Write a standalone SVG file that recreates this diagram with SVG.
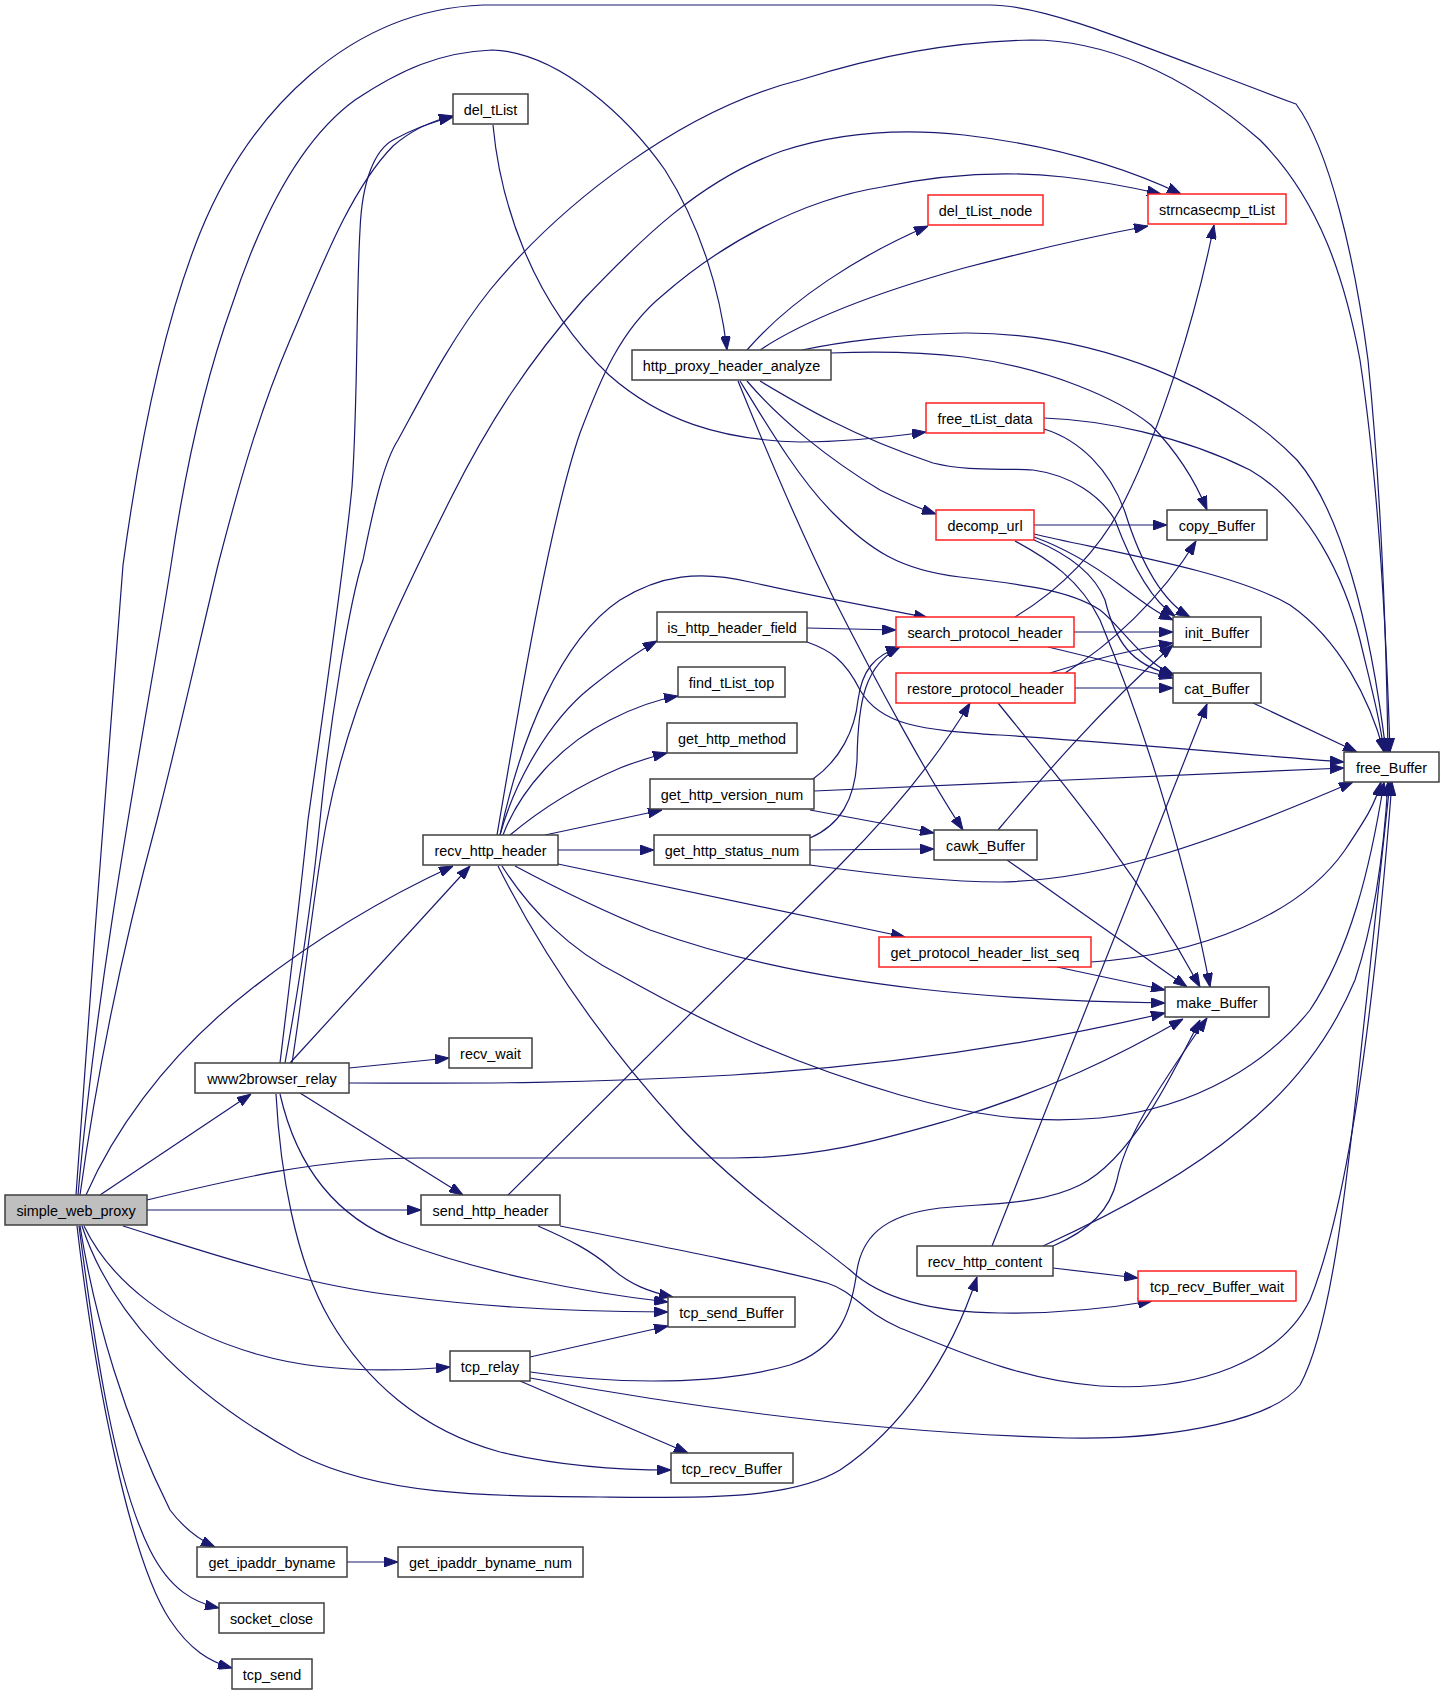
<svg xmlns="http://www.w3.org/2000/svg" width="1445" height="1696" viewBox="0 0 1445 1696">
<style>
.e{fill:none;stroke:#191970;stroke-width:1.2;marker-end:url(#arr)}
.n rect{fill:#ffffff;stroke:#404040;stroke-width:1.5}
.n.r rect{stroke:#ff2020}
.n.root rect{fill:#bfbfbf}
.n text{font-family:"Liberation Sans",Arial,sans-serif;font-size:14.4px;fill:#000;text-anchor:middle}
</style>
<defs>
<marker id="arr" viewBox="0 0 14 10" refX="14" refY="5" markerWidth="14" markerHeight="10" markerUnits="userSpaceOnUse" orient="auto">
<path d="M0,0 L14,5 L0,10 Z" fill="#191970" stroke="#191970" stroke-width="1"/>
</marker>
</defs>
<rect width="1445" height="1696" fill="#ffffff"/>
<g id="edges">
<path class="e" d="M76,1195 C90,1000 110,720 123,565 C140,440 165,320 200,233 C250,110 350,10 483,5 L990,5 C1050,5 1150,50 1296,104 C1330,150 1355,260 1368,360 C1380,480 1386,620 1388,752"/>
<path class="e" d="M78,1195 C100,950 150,700 171,565 C185,470 205,380 232,305 C260,220 300,140 355,100 C400,70 440,52 492,50 C560,52 630,120 665,170 C700,225 720,290 727,350"/>
<path class="e" d="M80,1195 C100,1050 130,920 157,820 C180,730 200,640 218,565 C240,480 260,410 290,340 C320,270 350,190 393,146 C415,127 435,120 453,116"/>
<path class="e" d="M86,1195 C110,1140 160,1060 250,990 C320,935 390,895 453,866"/>
<path class="e" d="M100,1195 L251,1094"/>
<path class="e" d="M147,1200 C230,1180 320,1158 420,1158 L733,1158 C820,1158 880,1140 950,1120 C1050,1090 1120,1055 1183,1019"/>
<path class="e" d="M147,1210 L421,1210"/>
<path class="e" d="M123,1226 C200,1250 300,1285 400,1296 C470,1305 540,1311 668,1312"/>
<path class="e" d="M84,1226 C110,1280 170,1330 260,1355 C320,1372 390,1372 450,1367"/>
<path class="e" d="M82,1226 C110,1310 180,1390 300,1455 C380,1495 480,1496 600,1497 C700,1498 790,1500 840,1470 C900,1430 950,1360 977,1277"/>
<path class="e" d="M80,1226 C95,1320 125,1420 170,1510 C185,1530 200,1540 215,1547"/>
<path class="e" d="M79,1226 C95,1350 115,1480 150,1550 C170,1590 195,1603 219,1608"/>
<path class="e" d="M77,1226 C95,1380 130,1560 170,1620 C190,1650 210,1662 232,1668"/>
<path class="e" d="M280,1063 C290,980 300,900 308,820 C325,700 345,560 352,487 C358,400 356,300 360,230 C362,180 375,150 393,140 C415,128 435,121 453,117"/>
<path class="e" d="M285,1063 C300,980 312,900 320,820 C330,720 350,600 363,560 C375,500 385,460 398,440 C420,400 450,340 490,290 C560,205 680,110 800,80 C880,55 950,42 1031,40 C1100,40 1180,70 1260,140 C1320,200 1345,280 1360,360 C1378,480 1386,620 1390,752"/>
<path class="e" d="M292,1063 C305,980 315,880 327,820 C350,700 400,600 450,500 C490,420 530,360 583,300 C640,240 700,180 782,151 C840,132 900,128 964,135 C1050,145 1120,165 1181,194"/>
<path class="e" d="M290,1063 L470,866"/>
<path class="e" d="M349,1068 L449,1058"/>
<path class="e" d="M349,1083 C450,1083 550,1085 733,1075 C900,1065 1050,1040 1165,1013"/>
<path class="e" d="M300,1093 L463,1195"/>
<path class="e" d="M280,1094 C295,1160 330,1215 400,1242 C480,1272 580,1292 668,1302"/>
<path class="e" d="M276,1094 C280,1170 295,1260 330,1320 C365,1380 420,1430 500,1452 C560,1466 620,1470 671,1470"/>
<path class="e" d="M497,835 C520,700 550,520 580,433 C600,380 620,330 663,295 C720,245 800,200 882,187 C940,175 1000,170 1064,177 C1100,181 1130,187 1161,194"/>
<path class="e" d="M500,835 C520,740 560,640 620,600 C660,575 700,570 750,582 C820,598 880,608 928,618"/>
<path class="e" d="M500,835 C515,780 550,720 590,688 C615,668 635,653 657,641"/>
<path class="e" d="M503,835 C520,790 560,745 610,720 C635,707 655,700 678,696"/>
<path class="e" d="M510,835 C540,810 580,785 620,768 C640,760 655,756 667,753"/>
<path class="e" d="M545,835 L662,810"/>
<path class="e" d="M558,850 L654,850"/>
<path class="e" d="M558,864 L905,937"/>
<path class="e" d="M515,866 C560,890 600,910 650,930 C720,955 800,975 920,989 C1000,998 1080,1002 1165,1003"/>
<path class="e" d="M502,866 C530,910 570,950 620,975 C700,1020 780,1060 900,1095 C970,1115 1030,1124 1100,1118 C1200,1108 1270,1060 1310,1010 C1350,950 1370,870 1384,782"/>
<path class="e" d="M498,866 C540,950 600,1040 683,1130 C740,1190 800,1230 850,1270 C880,1298 930,1312 1000,1313 C1060,1314 1110,1308 1152,1301"/>
<path class="e" d="M747,350 C790,300 860,255 928,226"/>
<path class="e" d="M760,350 C790,330 850,300 964,268 C1040,248 1100,235 1148,226"/>
<path class="e" d="M802,350 C840,342 900,334 964,333 C1100,332 1230,390 1297,460 C1340,510 1370,620 1386,752"/>
<path class="e" d="M831,353 C880,351 930,353 964,357 C1050,368 1120,400 1151,425 C1175,450 1195,480 1207,510"/>
<path class="e" d="M760,381 C800,405 850,435 933,463 C970,472 1000,468 1033,470 C1070,475 1100,495 1115,520 C1130,560 1150,600 1175,616"/>
<path class="e" d="M747,381 C780,420 830,460 880,490 C900,500 915,507 936,514"/>
<path class="e" d="M740,381 C770,430 800,480 833,513 C870,550 900,570 960,577 C1020,584 1070,590 1100,610 C1120,625 1140,660 1175,676"/>
<path class="e" d="M738,381 C770,460 800,530 833,597 C880,690 930,780 963,830"/>
<path class="e" d="M1044,418 C1100,420 1180,435 1250,470 C1310,505 1345,580 1360,640 C1372,690 1380,720 1384,752"/>
<path class="e" d="M1044,429 C1080,440 1110,470 1125,512 C1140,560 1160,600 1190,617"/>
<path class="e" d="M493,125 C500,200 530,300 609,375 C660,420 720,440 800,442 C850,442 890,437 926,432"/>
<path class="e" d="M1034,525 L1167,525"/>
<path class="e" d="M1034,534 C1100,550 1230,570 1290,605 C1340,640 1370,700 1384,752"/>
<path class="e" d="M1034,537 C1070,550 1100,570 1120,585 C1140,600 1155,612 1173,620"/>
<path class="e" d="M1034,540 C1070,555 1095,575 1105,600 C1115,640 1130,665 1173,675"/>
<path class="e" d="M1015,541 C1050,560 1080,580 1100,620 C1150,740 1190,880 1210,987"/>
<path class="e" d="M1015,617 C1060,590 1100,550 1125,500 C1160,430 1195,320 1214,225"/>
<path class="e" d="M1074,632 L1173,632"/>
<path class="e" d="M1048,647 C1090,657 1130,667 1173,678"/>
<path class="e" d="M1065,673 C1110,645 1160,600 1196,541"/>
<path class="e" d="M1050,673 C1090,660 1130,650 1173,643"/>
<path class="e" d="M1075,688 L1173,688"/>
<path class="e" d="M998,703 C1060,780 1130,860 1200,987"/>
<path class="e" d="M998,830 C1040,780 1100,710 1173,645"/>
<path class="e" d="M1007,860 L1187,987"/>
<path class="e" d="M1253,703 L1357,752"/>
<path class="e" d="M813,779 C840,760 855,730 858,700 C862,670 875,655 900,647"/>
<path class="e" d="M810,810 L934,833"/>
<path class="e" d="M814,791 L1344,768"/>
<path class="e" d="M810,838 C840,825 855,800 857,760 C858,700 865,665 900,647"/>
<path class="e" d="M810,850 L934,849"/>
<path class="e" d="M810,865 C860,872 940,882 1000,882 C1100,880 1200,848 1353,782"/>
<path class="e" d="M807,628 L896,630"/>
<path class="e" d="M807,642 C830,650 845,660 860,690 C880,725 920,730 1000,735 C1150,745 1250,755 1344,762"/>
<path class="e" d="M1057,967 L1165,990"/>
<path class="e" d="M1091,962 C1200,955 1300,915 1345,850 C1365,820 1375,805 1381,782"/>
<path class="e" d="M992,1246 L1207,704"/>
<path class="e" d="M1053,1246 C1090,1230 1110,1210 1117,1180 C1125,1140 1150,1100 1207,1018"/>
<path class="e" d="M1043,1246 C1100,1220 1180,1180 1240,1130 C1290,1090 1330,1040 1355,980 C1375,920 1384,850 1388,782"/>
<path class="e" d="M1053,1268 L1138,1278"/>
<path class="e" d="M530,1357 L668,1326"/>
<path class="e" d="M520,1381 L688,1453"/>
<path class="e" d="M530,1372 C620,1385 720,1385 790,1365 C840,1348 852,1310 857,1270 C862,1240 880,1215 940,1208 C990,1203 1040,1205 1080,1185 C1130,1160 1170,1080 1200,1020"/>
<path class="e" d="M530,1378 C650,1400 850,1432 1067,1438 C1180,1440 1275,1418 1300,1385 C1330,1330 1345,1200 1360,1060 C1372,950 1382,860 1390,782"/>
<path class="e" d="M508,1195 L840,865 C880,825 930,770 970,703"/>
<path class="e" d="M538,1226 C570,1240 590,1250 610,1267 C630,1285 650,1292 673,1297"/>
<path class="e" d="M560,1226 C680,1250 780,1270 827,1283 C855,1292 860,1310 900,1328 C960,1352 1020,1380 1100,1386 C1200,1392 1280,1360 1310,1300 C1350,1200 1375,1000 1392,782"/>
<path class="e" d="M347,1562 L398,1562"/>
</g>
<g id="node-simple_web_proxy" class="n root"><rect x="5" y="1195" width="142" height="30"/><text x="76" y="1215.5">simple_web_proxy</text></g>
<g id="node-del_tList" class="n"><rect x="453" y="94" width="75" height="30"/><text x="490.5" y="114.5">del_tList</text></g>
<g id="node-del_tList_node" class="n r"><rect x="928" y="195" width="115" height="30"/><text x="985.5" y="215.5">del_tList_node</text></g>
<g id="node-strncasecmp_tList" class="n r"><rect x="1148" y="194" width="138" height="30"/><text x="1217" y="214.5">strncasecmp_tList</text></g>
<g id="node-http_proxy_header_analyze" class="n"><rect x="632" y="350" width="199" height="30"/><text x="731.5" y="370.5">http_proxy_header_analyze</text></g>
<g id="node-free_tList_data" class="n r"><rect x="926" y="403" width="118" height="30"/><text x="985" y="423.5">free_tList_data</text></g>
<g id="node-decomp_url" class="n r"><rect x="936" y="510" width="98" height="30"/><text x="985" y="530.5">decomp_url</text></g>
<g id="node-copy_Buffer" class="n"><rect x="1167" y="510" width="100" height="30"/><text x="1217" y="530.5">copy_Buffer</text></g>
<g id="node-is_http_header_field" class="n"><rect x="657" y="612" width="150" height="30"/><text x="732" y="632.5">is_http_header_field</text></g>
<g id="node-search_protocol_header" class="n r"><rect x="896" y="617" width="178" height="30"/><text x="985" y="637.5">search_protocol_header</text></g>
<g id="node-init_Buffer" class="n"><rect x="1173" y="617" width="88" height="30"/><text x="1217" y="637.5">init_Buffer</text></g>
<g id="node-find_tList_top" class="n"><rect x="678" y="667" width="107" height="30"/><text x="731.5" y="687.5">find_tList_top</text></g>
<g id="node-restore_protocol_header" class="n r"><rect x="896" y="673" width="179" height="30"/><text x="985.5" y="693.5">restore_protocol_header</text></g>
<g id="node-cat_Buffer" class="n"><rect x="1173" y="673" width="88" height="30"/><text x="1217" y="693.5">cat_Buffer</text></g>
<g id="node-get_http_method" class="n"><rect x="667" y="723" width="130" height="30"/><text x="732" y="743.5">get_http_method</text></g>
<g id="node-free_Buffer" class="n"><rect x="1344" y="752" width="95" height="30"/><text x="1391.5" y="772.5">free_Buffer</text></g>
<g id="node-get_http_version_num" class="n"><rect x="650" y="779" width="164" height="30"/><text x="732" y="799.5">get_http_version_num</text></g>
<g id="node-recv_http_header" class="n"><rect x="423" y="835" width="135" height="30"/><text x="490.5" y="855.5">recv_http_header</text></g>
<g id="node-get_http_status_num" class="n"><rect x="654" y="835" width="156" height="30"/><text x="732" y="855.5">get_http_status_num</text></g>
<g id="node-cawk_Buffer" class="n"><rect x="934" y="830" width="103" height="30"/><text x="985.5" y="850.5">cawk_Buffer</text></g>
<g id="node-get_protocol_header_list_seq" class="n r"><rect x="879" y="937" width="212" height="30"/><text x="985" y="957.5">get_protocol_header_list_seq</text></g>
<g id="node-make_Buffer" class="n"><rect x="1165" y="987" width="104" height="30"/><text x="1217" y="1007.5">make_Buffer</text></g>
<g id="node-recv_wait" class="n"><rect x="449" y="1038" width="83" height="30"/><text x="490.5" y="1058.5">recv_wait</text></g>
<g id="node-www2browser_relay" class="n"><rect x="195" y="1063" width="154" height="30"/><text x="272" y="1083.5">www2browser_relay</text></g>
<g id="node-send_http_header" class="n"><rect x="421" y="1195" width="139" height="30"/><text x="490.5" y="1215.5">send_http_header</text></g>
<g id="node-recv_http_content" class="n"><rect x="917" y="1246" width="136" height="30"/><text x="985" y="1266.5">recv_http_content</text></g>
<g id="node-tcp_recv_Buffer_wait" class="n r"><rect x="1138" y="1271" width="158" height="30"/><text x="1217" y="1291.5">tcp_recv_Buffer_wait</text></g>
<g id="node-tcp_send_Buffer" class="n"><rect x="668" y="1297" width="127" height="30"/><text x="731.5" y="1317.5">tcp_send_Buffer</text></g>
<g id="node-tcp_relay" class="n"><rect x="450" y="1351" width="80" height="30"/><text x="490" y="1371.5">tcp_relay</text></g>
<g id="node-tcp_recv_Buffer" class="n"><rect x="671" y="1453" width="122" height="30"/><text x="732" y="1473.5">tcp_recv_Buffer</text></g>
<g id="node-get_ipaddr_byname" class="n"><rect x="197" y="1547" width="150" height="30"/><text x="272" y="1567.5">get_ipaddr_byname</text></g>
<g id="node-get_ipaddr_byname_num" class="n"><rect x="398" y="1547" width="185" height="30"/><text x="490.5" y="1567.5">get_ipaddr_byname_num</text></g>
<g id="node-socket_close" class="n"><rect x="219" y="1603" width="105" height="30"/><text x="271.5" y="1623.5">socket_close</text></g>
<g id="node-tcp_send" class="n"><rect x="232" y="1659" width="80" height="30"/><text x="272" y="1679.5">tcp_send</text></g>
</svg>
